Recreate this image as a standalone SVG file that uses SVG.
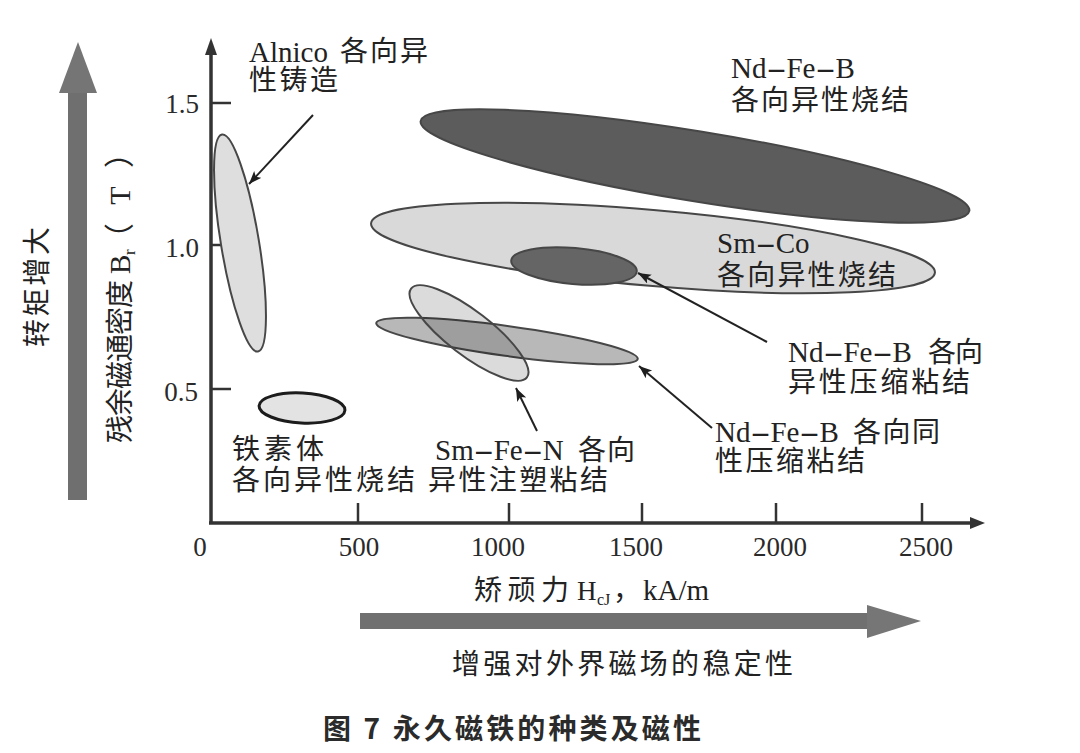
<svg xmlns="http://www.w3.org/2000/svg" width="1080" height="753" viewBox="0 0 1080 753">
<style>
  .lbl { font-family: "Liberation Serif", "Noto Sans CJK SC", serif; font-size: 28px; fill: #222; }
  .lat { font-family: "Liberation Serif", serif; font-size: 29px; fill: #222; }
  .tick { font-family: "Liberation Serif", serif; font-size: 27px; fill: #2a2a2a; }
  .cap { font-family: "Noto Sans CJK SC", "Liberation Sans", sans-serif; font-size: 28px; font-weight: bold; fill: #2b2b2b; }
  .ax { stroke: #333; stroke-width: 3.5; fill: none; }
  .tk { stroke: #333; stroke-width: 2.5; }
  .el { stroke: #474747; stroke-width: 2; }
  .lead { stroke: #222; stroke-width: 2; fill: none; }
</style>
<defs>
  <marker id="ah" markerUnits="userSpaceOnUse" markerWidth="14" markerHeight="12" refX="13" refY="5" orient="auto">
    <path d="M0,0 L13,5 L0,10 L3,5 z" fill="#1e1e1e"/>
  </marker>
</defs>
<rect width="1080" height="753" fill="#ffffff"/>

<!-- big side arrows -->
<g id="torque-arrow">
  <rect x="68" y="92" width="19" height="408" fill="#6f6f6f"/>
  <polygon points="78,42 97,93 59,93" fill="#757575"/>
  <text class="lbl" transform="translate(47,287) rotate(-90)" text-anchor="middle" textLength="120" lengthAdjust="spacing">转矩增大</text>
</g>
<g id="stability-arrow">
  <rect x="360" y="613" width="510" height="16" fill="#707070"/>
  <polygon points="867,605 921,621 867,638" fill="#767676"/>
  <text class="lbl" x="452" y="674" textLength="341" lengthAdjust="spacing">增强对外界磁场的稳定性</text>
</g>

<!-- axes -->
<g id="axes">
  <line class="ax" x1="211" y1="50" x2="211" y2="524"/>
  <polygon points="211,38 217,55 205,55" fill="#333"/>
  <line class="ax" x1="209" y1="523" x2="974" y2="523"/>
  <polygon points="985,523 970,517 970,529" fill="#333"/>
  <line class="tk" x1="211" y1="103" x2="231" y2="103"/>
  <line class="tk" x1="211" y1="245" x2="231" y2="245"/>
  <line class="tk" x1="211" y1="389" x2="231" y2="389"/>
  <line class="tk" x1="358" y1="523" x2="358" y2="503"/>
  <line class="tk" x1="509" y1="523" x2="509" y2="503"/>
  <line class="tk" x1="642" y1="523" x2="642" y2="503"/>
  <line class="tk" x1="776" y1="523" x2="776" y2="503"/>
  <line class="tk" x1="922" y1="523" x2="922" y2="503"/>
  <text class="tick" x="199" y="113" text-anchor="end">1.5</text>
  <text class="tick" x="199" y="257" text-anchor="end">1.0</text>
  <text class="tick" x="198" y="401" text-anchor="end">0.5</text>
  <text class="tick" x="200" y="556" text-anchor="middle">0</text>
  <text class="tick" x="359" y="556" text-anchor="middle">500</text>
  <text class="tick" x="498" y="556" text-anchor="middle">1000</text>
  <text class="tick" x="636" y="556" text-anchor="middle">1500</text>
  <text class="tick" x="780" y="556" text-anchor="middle">2000</text>
  <text class="tick" x="926" y="556" text-anchor="middle">2500</text>
  <text class="lbl" transform="translate(130,443) rotate(-90)"><tspan x="0" textLength="163" lengthAdjust="spacing">残余磁通密度</tspan><tspan x="169" font-size="29">B</tspan><tspan x="188" dy="5" font-size="17">r</tspan><tspan x="190" dy="-5" font-size="30" textLength="115" lengthAdjust="spacing">（T）</tspan></text>
  <text class="lbl" y="600"><tspan x="474" textLength="95" lengthAdjust="spacing">矫顽力</tspan><tspan x="577" font-size="27">H</tspan><tspan x="597" dy="5" font-size="16">cJ</tspan><tspan x="613" dy="-5">，</tspan><tspan x="643" font-size="29">kA/m</tspan></text>
</g>

<!-- material regions -->
<g id="smco">
  <ellipse class="el" cx="653" cy="248" rx="283" ry="38" transform="rotate(5 653 248)" fill="#d9d9d9"/>
  <text class="lat" x="717" y="253">Sm<tspan textLength="20" lengthAdjust="spacingAndGlyphs">-</tspan>Co</text>
  <text class="lbl" x="717" y="285" textLength="179" lengthAdjust="spacing">各向异性烧结</text>
</g>
<g id="ndfeb-sintered">
  <ellipse class="el" cx="695" cy="166" rx="278" ry="35" transform="rotate(9.3 695 166)" fill="#5c5c5c" stroke="#383838"/>
  <text class="lat" x="731" y="78">Nd<tspan textLength="20" lengthAdjust="spacingAndGlyphs">-</tspan>Fe<tspan textLength="20" lengthAdjust="spacingAndGlyphs">-</tspan>B</text>
  <text class="lbl" x="731" y="110" textLength="178" lengthAdjust="spacing">各向异性烧结</text>
</g>
<g id="ndfeb-aniso-bonded">
  <ellipse class="el" cx="574" cy="266" rx="63" ry="18" transform="rotate(5 574 266)" fill="#656565" stroke="#444"/>
  <text class="lat" x="788" y="362">Nd<tspan textLength="20" lengthAdjust="spacingAndGlyphs">-</tspan>Fe<tspan textLength="20" lengthAdjust="spacingAndGlyphs">-</tspan>B</text>
  <text class="lbl" x="928" y="362" textLength="55" lengthAdjust="spacing">各向</text>
  <text class="lbl" x="788" y="392" textLength="182" lengthAdjust="spacing">异性压缩粘结</text>
</g>
<g id="ndfeb-iso-bonded">
  <ellipse class="el" cx="507" cy="341" rx="132" ry="15" transform="rotate(7.8 507 341)" fill="#b8b8b8"/>
  <text class="lat" x="715" y="442" font-size="28">Nd<tspan textLength="20" lengthAdjust="spacingAndGlyphs">-</tspan>Fe<tspan textLength="20" lengthAdjust="spacingAndGlyphs">-</tspan>B</text>
  <text class="lbl" x="853" y="442" font-size="27" textLength="87" lengthAdjust="spacing">各向同</text>
  <text class="lbl" x="715" y="471" font-size="27" textLength="150" lengthAdjust="spacing">性压缩粘结</text>
</g>
<g id="smfen">
  <ellipse class="el" cx="469" cy="333" rx="73" ry="22" transform="rotate(37.5 469 333)" fill="#000" fill-opacity="0.14"/>
  <text class="lat" x="435" y="460">Sm<tspan textLength="20" lengthAdjust="spacingAndGlyphs">-</tspan>Fe<tspan textLength="20" lengthAdjust="spacingAndGlyphs">-</tspan>N</text>
  <text class="lbl" x="578" y="460" textLength="57" lengthAdjust="spacing">各向</text>
  <text class="lbl" x="428" y="490" textLength="180" lengthAdjust="spacing">异性注塑粘结</text>
</g>
<g id="alnico">
  <ellipse class="el" cx="240" cy="243" rx="19" ry="110" transform="rotate(-9.4 240 243)" fill="#dedede"/>
  <text class="lat" x="249" y="62">Alnico</text>
  <text class="lbl" x="340" y="61" textLength="88" lengthAdjust="spacing">各向异</text>
  <text class="lbl" x="249" y="90" textLength="89" lengthAdjust="spacing">性铸造</text>
</g>
<g id="ferrite">
  <ellipse cx="302" cy="408" rx="43" ry="15" transform="rotate(3 302 408)" fill="#e3e3e3" stroke="#1c1c1c" stroke-width="3"/>
  <text class="lbl" x="232" y="459" textLength="92" lengthAdjust="spacing">铁素体</text>
  <text class="lbl" x="232" y="490" textLength="183" lengthAdjust="spacing">各向异性烧结</text>
</g>

<!-- connectors -->
<g id="connectors">
  <line class="lead" x1="313" y1="115" x2="249" y2="184" marker-end="url(#ah)"/>
  <line class="lead" x1="537" y1="431" x2="516" y2="388" marker-end="url(#ah)"/>
  <line class="lead" x1="712" y1="428" x2="639" y2="366" marker-end="url(#ah)"/>
  <line class="lead" x1="767" y1="342" x2="638" y2="273" stroke="#6e6e6e" stroke-width="1.6" marker-end="url(#ah)"/>
</g>

<g id="caption">
  <text class="cap" x="323" y="739" textLength="378" lengthAdjust="spacing">图 7 永久磁铁的种类及磁性</text>
</g>
</svg>
